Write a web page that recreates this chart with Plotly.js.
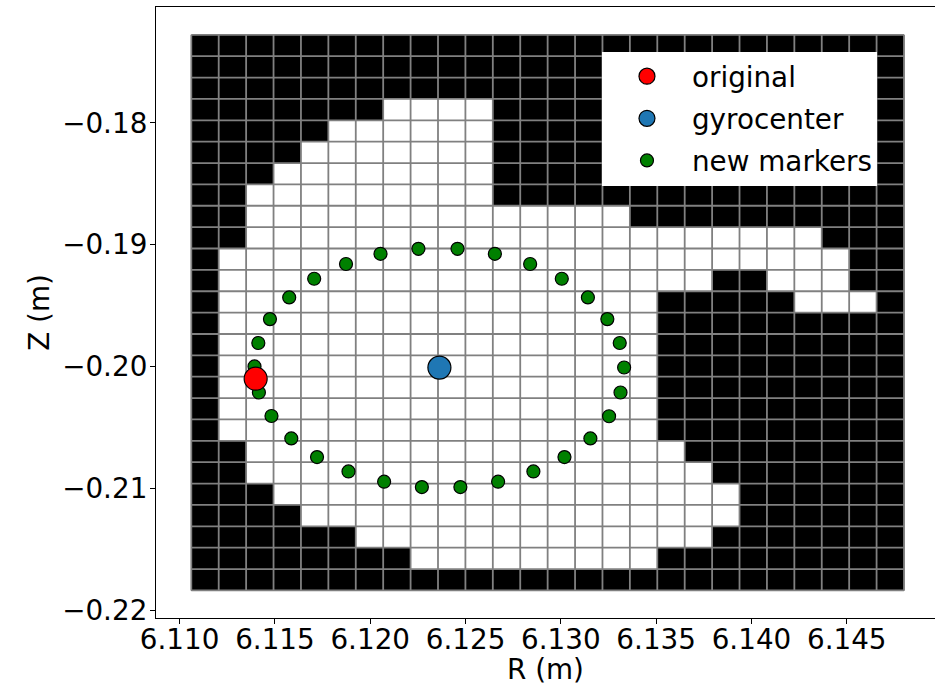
<!DOCTYPE html>
<html>
<head>
<meta charset="utf-8">
<script src="https://cdn.plot.ly/plotly-3.0.1.min.js"></script>
<style>
  html, body { margin: 0; padding: 0; background: #ffffff; }
  #chart { width: 935px; height: 686px; }
</style>
</head>
<body>
<div id="chart"></div>
<script>
// ---- data ----
// cell edges of the mesh (R, m) left -> right
const rEdges = [6.110614, 6.112052, 6.113490, 6.114928, 6.116366, 6.117804, 6.119242,
  6.120680, 6.122118, 6.123556, 6.124994, 6.126432, 6.127870, 6.129308, 6.130746,
  6.132184, 6.133622, 6.135060, 6.136498, 6.137936, 6.139374, 6.140812, 6.142250,
  6.143688, 6.145126, 6.146564, 6.148002];
// cell edges of the mesh (Z, m) bottom -> top
const zEdges = [-0.218358, -0.216605, -0.214852, -0.213098, -0.211345, -0.209592,
  -0.207839, -0.206086, -0.204332, -0.202579, -0.200826, -0.199073, -0.197320,
  -0.195566, -0.193813, -0.192060, -0.190307, -0.188554, -0.186800, -0.185047,
  -0.183294, -0.181541, -0.179788, -0.178034, -0.176281, -0.174528, -0.172775];
// mask rows, top row first ('1' = black, '0' = white)
const maskRows = [
  "11111111111111111111111111",
  "11111111111111111111111111",
  "11111111111111111111111111",
  "11111110000111111111111111",
  "11111000000111111111111111",
  "11110000000111111111111111",
  "11100000000111111111111111",
  "11000000000111111111111111",
  "11000000000000001111111111",
  "11000000000000000000000111",
  "10000000000000000000000011",
  "10000000000000000001100011",
  "10000000000000000111110001",
  "10000000000000000111111111",
  "10000000000000000111111111",
  "10000000000000000111111111",
  "10000000000000000111111111",
  "10000000000000000111111111",
  "10000000000000000111111111",
  "11000000000000000011111111",
  "11000000000000000001111111",
  "11100000000000000000111111",
  "11110000000000000000111111",
  "11111100000000000001111111",
  "11111111000000000111111111",
  "11111111111111111111111111"
];
const originalR = [6.11399];
const originalZ = [-0.20099];
const gyroR = [6.12363];
const gyroZ = [-0.20008];
const newR = [6.11393, 6.11413, 6.11474, 6.11575, 6.11706, 6.11873, 6.12054, 6.12253,
  6.12458, 6.12654, 6.12839, 6.13005, 6.13142, 6.13244, 6.13309, 6.13332, 6.13313,
  6.13253, 6.13155, 6.13019, 6.12856, 6.12671, 6.12473, 6.12271, 6.12073, 6.11886,
  6.11721, 6.11586, 6.11482, 6.11416];
const newZ = [-0.19998, -0.19806, -0.19610, -0.19432, -0.19279, -0.19158, -0.19074,
  -0.19033, -0.19033, -0.19074, -0.19158, -0.19279, -0.19432, -0.19610, -0.19806,
  -0.20007, -0.20212, -0.20407, -0.20589, -0.20742, -0.20860, -0.20944, -0.20988,
  -0.20988, -0.20944, -0.20860, -0.20742, -0.20589, -0.20405, -0.20212];
const xTickVals = [6.110, 6.115, 6.120, 6.125, 6.130, 6.135, 6.140, 6.145];
const xTickText = ["6.110", "6.115", "6.120", "6.125", "6.130", "6.135", "6.140", "6.145"];
const yTickVals = [-0.22, -0.21, -0.20, -0.19, -0.18];
const yTickText = ["\u22120.22", "\u22120.21", "\u22120.20", "\u22120.19", "\u22120.18"];

// ---- build ----
maskRows.forEach((r, i) => { if (r.length !== 26) throw new Error("row " + i + " len " + r.length); });
const zMatrix = maskRows.slice().reverse().map(r => r.split("").map(Number));

const gx = [], gy = [];
const zMin = zEdges[0], zMax = zEdges[zEdges.length - 1];
const rMin = rEdges[0], rMax = rEdges[rEdges.length - 1];
rEdges.forEach(r => { gx.push(r, r, null); gy.push(zMin, zMax, null); });
zEdges.forEach(z => { gx.push(rMin, rMax, null); gy.push(z, z, null); });

const FONT = "DejaVu Sans, Verdana, sans-serif";
const FS = 27.8;

const traces = [
  {
    type: "heatmap", x: rEdges, y: zEdges, z: zMatrix,
    zmin: 0, zmax: 1, colorscale: [[0, "#ffffff"], [1, "#000000"]],
    showscale: false, hoverinfo: "skip"
  },
  {
    type: "scatter", mode: "lines", x: gx, y: gy,
    line: { color: "#808080", width: 1.8 }, hoverinfo: "skip", showlegend: false
  },
  {
    type: "scatter", mode: "markers", name: "new markers", x: newR, y: newZ,
    legendrank: 3, legendgroup: "c",
    marker: { color: "#008000", size: 13, line: { color: "#000000", width: 1.2 } }
  },
  {
    type: "scatter", mode: "markers", name: "gyrocenter", x: gyroR, y: gyroZ,
    legendrank: 2, legendgroup: "b",
    marker: { color: "#1f77b4", size: 23, line: { color: "#000000", width: 1.2 } }
  },
  {
    type: "scatter", mode: "markers", name: "original", x: originalR, y: originalZ,
    legendrank: 1, legendgroup: "a",
    marker: { color: "#ff0000", size: 23, line: { color: "#000000", width: 1.2 } }
  }
];

const layout = {
  width: 935, height: 686,
  margin: { l: 156, r: 0, t: 7, b: 68 },
  paper_bgcolor: "#ffffff", plot_bgcolor: "#ffffff",
  font: { family: FONT, size: FS, color: "#000000" },
  showlegend: true,
  legend: {
    x: 0.5725, xanchor: "left", y: 0.927, yanchor: "top",
    bgcolor: "#ffffff", borderwidth: 0,
    font: { family: FONT, size: FS, color: "#000000" },
    itemsizing: "trace", itemwidth: 80, tracegroupgap: 3
  },
  xaxis: {
    range: [6.108762, 6.149629], autorange: false,
    tickvals: xTickVals, ticktext: xTickText,
    showgrid: false, zeroline: false,
    showline: true, linecolor: "#000000", linewidth: 1.1, mirror: true,
    ticks: "outside", ticklen: 5, tickwidth: 1.1, tickcolor: "#000000",
    ticklabelstandoff: -8,
    tickfont: { family: FONT, size: FS, color: "#000000" },
    title: { text: "R (m)", font: { family: FONT, size: FS, color: "#000000" }, standoff: 8 },
    automargin: false
  },
  yaxis: {
    range: [-0.220622, -0.170493], autorange: false,
    tickvals: yTickVals, ticktext: yTickText,
    showgrid: false, zeroline: false,
    showline: true, linecolor: "#000000", linewidth: 1.1, mirror: false,
    ticks: "outside", ticklen: 5, tickwidth: 1.1, tickcolor: "#000000",
    ticklabelstandoff: -3,
    tickfont: { family: FONT, size: FS, color: "#000000" },
    title: { text: "Z (m)", font: { family: FONT, size: FS, color: "#000000" }, standoff: 4 },
    automargin: false
  }
};

Plotly.newPlot("chart", traces, layout, { displayModeBar: false, staticPlot: true });
</script>
</body>
</html>
